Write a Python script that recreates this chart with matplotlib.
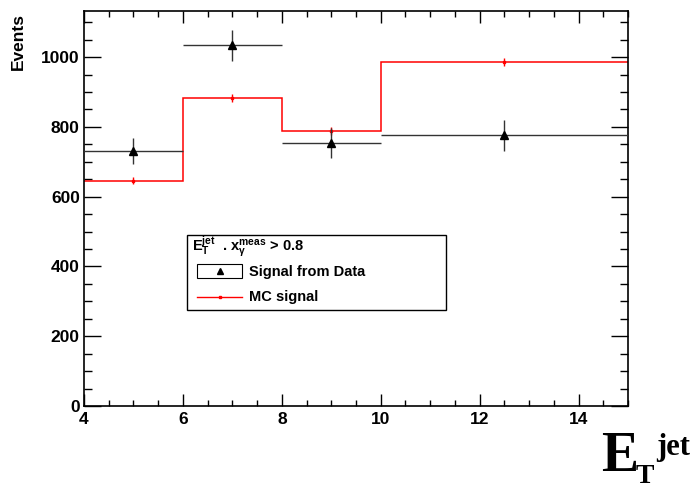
import numpy as np
import matplotlib.pyplot as plt
from matplotlib.patches import Rectangle
from matplotlib.lines import Line2D
from matplotlib.ticker import MultipleLocator

plt.rcParams['font.family'] = ['Liberation Sans', 'DejaVu Sans']
plt.rcParams['mathtext.fontset'] = 'custom'
plt.rcParams['mathtext.rm'] = 'Liberation Sans:bold'
plt.rcParams['mathtext.it'] = 'Liberation Sans:bold'
plt.rcParams['mathtext.bf'] = 'Liberation Sans:bold'

# Bins in E_T^jet
bin_edges = [4, 6, 8, 10, 15]
bin_centers = [5, 7, 9, 12.5]

# Signal from data
data_vals = [730, 1034, 754, 776]
data_errs = [37, 44, 42, 44]

# MC signal
mc_vals = [645, 882, 788, 985]
mc_errs = [10, 11, 11, 12]

fig = plt.figure(figsize=(6.96, 4.91), dpi=100)
ax = fig.add_axes([84/696, 1-406/491, 544/696, 395/491])

edges = np.array(bin_edges)
centers = np.array(bin_centers)
half_w = [(edges[i+1]-edges[i])/2 for i in range(len(centers))]

# MC histogram
ax.stairs(mc_vals, edges, color='red', linewidth=1.1, baseline=None, zorder=2)
ax.errorbar(centers, mc_vals, yerr=mc_errs, fmt='s', color='red', ms=2,
            elinewidth=1, capsize=0, zorder=3)

# Data points
ax.errorbar(centers, data_vals, xerr=half_w, yerr=data_errs, fmt='^', color='black',
            ms=6, elinewidth=1, ecolor='#333333', capsize=0, zorder=4)

ax.set_xlim(4, 15)
ax.set_ylim(0, 1132)

ax.xaxis.set_major_locator(MultipleLocator(2))
ax.xaxis.set_minor_locator(MultipleLocator(0.5))
ax.yaxis.set_major_locator(MultipleLocator(200))
ax.yaxis.set_minor_locator(MultipleLocator(50))

ax.tick_params(axis='x', which='major', direction='in', length=8.4, width=1,
               top=True, pad=4, labelsize=12.5)
ax.tick_params(axis='x', which='minor', direction='in', length=4, width=1, top=True)
ax.tick_params(axis='y', which='major', direction='in', length=12, width=1,
               right=True, pad=3, labelsize=12.5)
ax.tick_params(axis='y', which='minor', direction='in', length=6, width=1, right=True)
for lab in ax.get_xticklabels() + ax.get_yticklabels():
    lab.set_fontweight('bold')
for sp in ax.spines.values():
    sp.set_linewidth(1.2)

# Legend drawn by hand
leg = Rectangle((187/696, 1-310/491), 259/696, 75/491, transform=fig.transFigure,
                facecolor='white', edgecolor='black', linewidth=1, zorder=1)
fig.patches.append(leg)
box = Rectangle((197/696, 1-278/491), 45/696, 14/491, transform=fig.transFigure,
                facecolor='white', edgecolor='black', linewidth=0.8, zorder=1.5)
fig.patches.append(box)
fig.text(192/696, 1-247/491, r'E$_T^{jet}$  . x$_\gamma^{meas}$ > 0.8',
         fontsize=10.5, fontweight='bold', va='center', ha='left', zorder=3)
fig.lines.append(Line2D([219.5/696], [1-271/491], marker='^', color='black', ms=5,
                        transform=fig.transFigure, zorder=3))
fig.text(249/696, 1-272/491, 'Signal from Data', fontsize=10.5, fontweight='bold',
         va='center', ha='left', zorder=3)
fig.lines.append(Line2D([197/696, 242/696], [1-297/491, 1-297/491], color='red',
                        linewidth=1, transform=fig.transFigure, zorder=3))
fig.lines.append(Line2D([219.5/696], [1-297/491], marker='s', color='red', ms=2,
                        transform=fig.transFigure, zorder=3))
fig.text(249/696, 1-297/491, 'MC signal', fontsize=10.5, fontweight='bold',
         va='center', ha='left', zorder=3)

# Axis titles
fig.text(18/696, 1-41/491, 'Events', rotation=90, fontsize=12.5, fontweight='bold',
         ha='center', va='center')
fig.text(601/696, 1-471/491, 'E', family='Liberation Serif', fontweight='bold',
         fontsize=40, ha='left', va='baseline')
fig.text(636/696, 2/491, 'T', family='Liberation Serif', fontweight='bold',
         fontsize=20, ha='left', va='bottom')
fig.text(656/696, 1-455/491, 'jet', family='Liberation Serif', fontweight='bold',
         fontsize=22, ha='left', va='baseline')

fig.savefig('out.png', dpi=100)
